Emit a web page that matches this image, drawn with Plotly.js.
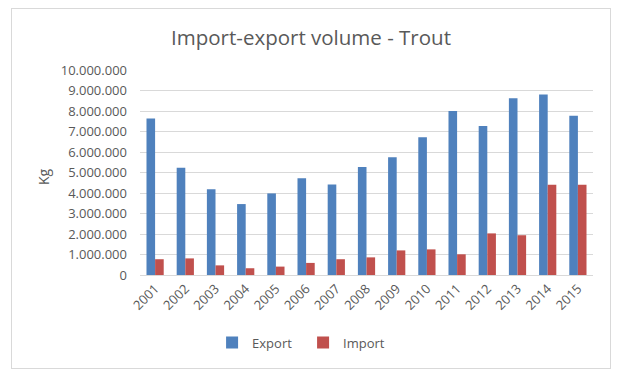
<!DOCTYPE html>
<html>
<head>
<meta charset="utf-8">
<script src="https://cdn.plot.ly/plotly-3.0.1.min.js"></script>
<style>
  html, body { margin: 0; padding: 0; background: #fff; }
  #wrap { position: relative; width: 625px; height: 379px; }
  #chart { position: absolute; left: 0; top: 0; width: 625px; height: 379px; }
  #frame { position: absolute; left: 11px; top: 8px; width: 598px; height: 359px;
           border: 1px solid #D9D9D9; pointer-events: none; }
</style>
</head>
<body>
<div id="wrap">
  <div id="chart"></div>
  <div id="frame"></div>
</div>
<script>
const years = ['2001','2002','2003','2004','2005','2006','2007','2008','2009','2010','2011','2012','2013','2014','2015'];
const exportKg = [7640000, 5230000, 4180000, 3460000, 3980000, 4720000, 4420000, 5270000, 5740000, 6720000, 8000000, 7270000, 8620000, 8810000, 7770000];
const importKg = [770000, 810000, 470000, 330000, 410000, 590000, 770000, 860000, 1200000, 1250000, 1010000, 2030000, 1940000, 4400000, 4400000];
const yTicks = [0, 1000000, 2000000, 3000000, 4000000, 5000000, 6000000, 7000000, 8000000, 9000000, 10000000];

const font = 'Open Sans, Liberation Sans, sans-serif';
const grey = '#595959';

const traces = [
  { type: 'bar', name: 'Export', x: years, y: exportKg, marker: { color: '#4F81BD' } },
  { type: 'bar', name: 'Import', x: years, y: importKg, marker: { color: '#C0504D' } }
];

const layout = {
  width: 625, height: 379,
  margin: { l: 140, r: 32, t: 70, b: 104, pad: 0 },
  paper_bgcolor: '#ffffff', plot_bgcolor: '#ffffff',
  separators: ',.',
  font: { family: font, size: 13, color: grey },
  title: { text: 'Import-export volume - Trout', font: { family: font, size: 20.5, color: grey },
           x: 0.4976, xref: 'container', xanchor: 'center', y: 0.9, yref: 'container', yanchor: 'middle' },
  barmode: 'group', bargap: 0.43, bargroupgap: 0,
  showlegend: true,
  legend: { orientation: 'h', x: 0.36, xanchor: 'center', y: -0.33, yanchor: 'middle',
            font: { family: font, size: 13, color: grey }, itemwidth: 30,
            entrywidth: 46, entrywidthmode: 'pixels', tracegroupgap: 0 },
  xaxis: { type: 'category', tickangle: -45, showgrid: false, zeroline: false,
           showline: true, linecolor: '#D9D9D9', linewidth: 1, ticks: '',
           tickfont: { family: font, size: 13, color: grey }, automargin: false },
  yaxis: { range: [0, 10000000], tickvals: yTicks, tickformat: ',d', showgrid: true,
           gridcolor: '#D9D9D9', gridwidth: 1, zeroline: false, showline: false, ticks: '',
           ticklabelstandoff: 12,
           tickfont: { family: font, size: 13, color: grey }, automargin: false },
  annotations: [
    { text: 'Kg', xref: 'paper', yref: 'paper', x: -0.214, y: 0.478, showarrow: false,
      textangle: -90, xanchor: 'center', yanchor: 'middle', font: { family: font, size: 14, color: grey } }
  ]
};

Plotly.newPlot('chart', traces, layout, { displayModeBar: false, staticPlot: true });
</script>
</body>
</html>
